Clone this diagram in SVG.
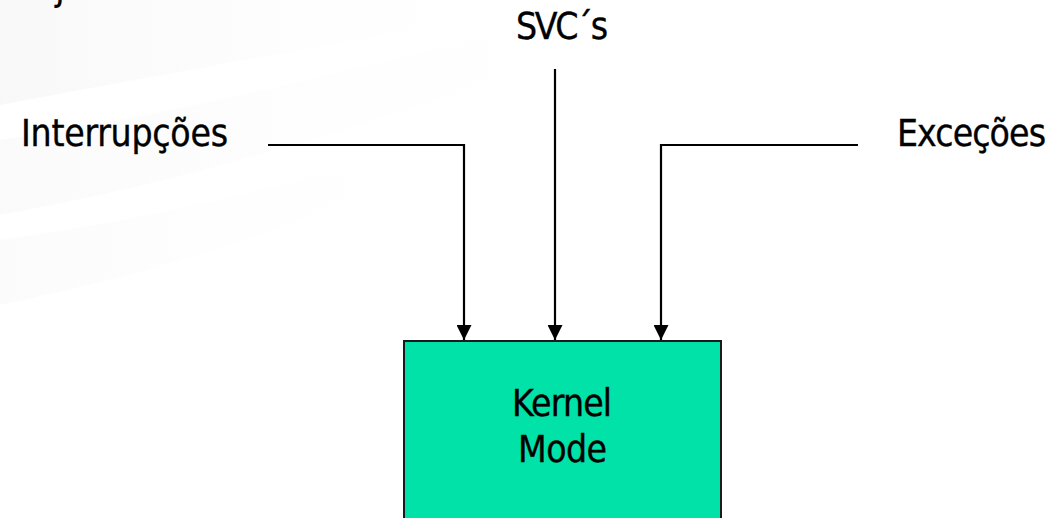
<svg xmlns="http://www.w3.org/2000/svg" width="1049" height="518" viewBox="0 0 1049 518">
  <defs>
    <style>
      .lbl { font-family: "DejaVu Sans Condensed", "Liberation Sans", sans-serif; font-size: 37px; fill: #000; stroke: #000; stroke-width: 0.35px; }
      .conn { fill: none; stroke: #000; stroke-width: 2.2; }
    </style>
    <marker id="arrow" markerUnits="userSpaceOnUse" markerWidth="15" markerHeight="15" refX="15" refY="7.5" orient="auto">
      <path d="M0,0 L15,7.5 L0,15 Z" fill="#000"/>
    </marker>
    <linearGradient id="fadeR" x1="0" y1="0" x2="1" y2="0">
      <stop offset="0" stop-color="#f0f0f0" stop-opacity="1"/>
      <stop offset="1" stop-color="#ffffff" stop-opacity="0"/>
    </linearGradient>
  </defs>

  <rect width="1049" height="518" fill="#ffffff"/>

  <g id="background">
    <path d="M0,0 H560 C420,30 240,60 0,105 Z" fill="url(#fadeR)" opacity="0.45"/>
    <path d="M0,140 C200,110 400,60 620,0 H700 C480,90 250,170 0,215 Z" fill="url(#fadeR)" opacity="0.3"/>
    <path d="M0,240 C180,215 360,170 520,110 C400,190 220,260 0,305 Z" fill="url(#fadeR)" opacity="0.25"/>
  </g>

  <g id="title-fragment">
    <text x="55" y="-1" font-family="DejaVu Sans Condensed, Liberation Sans, sans-serif" font-size="40" fill="#000">j</text>
  </g>

  <g id="connectors">
    <path class="conn" d="M268,145 H464 V340" marker-end="url(#arrow)"/>
    <path class="conn" d="M555,69 V340" marker-end="url(#arrow)"/>
    <path class="conn" d="M858,145 H661 V340" marker-end="url(#arrow)"/>
  </g>

  <g id="node-interrupcoes">
    <text class="lbl" x="21" y="146" textLength="207">Interrupções</text>
  </g>

  <g id="node-svcs">
    <text class="lbl" x="516" y="39" textLength="92">SVC´s</text>
  </g>

  <g id="node-excecoes">
    <text class="lbl" x="897" y="146" textLength="149">Exceções</text>
  </g>

  <g id="node-kernel">
    <rect x="404" y="341" width="317" height="200" fill="#00E2A8" stroke="#1a1a1a" stroke-width="2"/>
    <text class="lbl" x="512" y="416" textLength="100">Kernel</text>
    <text class="lbl" x="518" y="462" textLength="89">Mode</text>
  </g>
</svg>
